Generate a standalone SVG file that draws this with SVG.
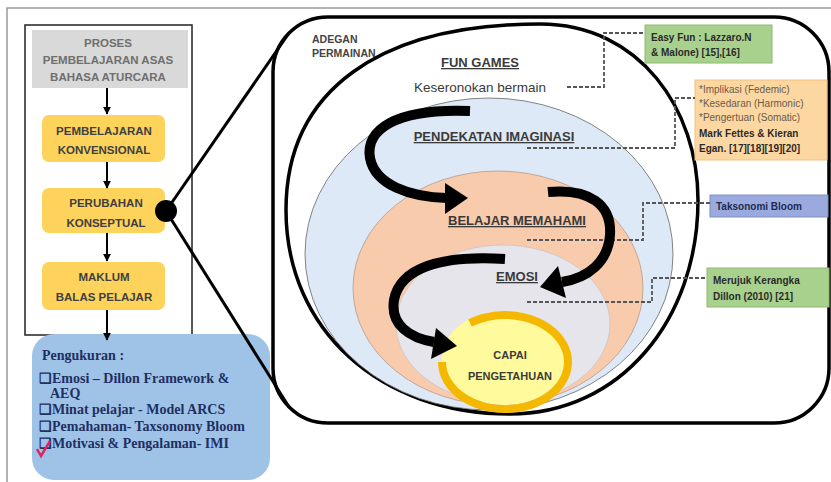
<svg xmlns="http://www.w3.org/2000/svg" width="831" height="482" viewBox="0 0 831 482">
<style>
.s{font-family:"Liberation Sans",Arial,sans-serif}
.b{font-weight:bold}
.lp{font-family:"Liberation Sans",Arial,sans-serif;font-weight:bold;font-size:11.5px;fill:#3f3f3f;text-anchor:middle}
.yb{fill:#fdd35c;stroke:none}
.ms{font-family:"Liberation Serif","Times New Roman",serif;font-weight:bold;font-size:14px;fill:#1f2f5f}
.dash{fill:none;stroke:#555;stroke-width:1.8;stroke-dasharray:4 2}
.thick{fill:none;stroke:#000;stroke-width:10}
.ttl{font-family:"Liberation Sans",Arial,sans-serif;font-weight:bold;font-size:13px;fill:#3a3a3a;text-anchor:middle;text-decoration:underline}
.ref{font-family:"Liberation Sans",Arial,sans-serif;font-size:10px;fill:#2a2a2a}
</style>
<defs>
<marker id="ah" viewBox="0 0 10 10" refX="9" refY="5" markerWidth="4" markerHeight="4" orient="auto">
<path d="M0,0 L10,5 L0,10 z" fill="#000"/>
</marker>
</defs>
<rect width="831" height="482" fill="#fff"/>
<!-- outer frame -->
<path d="M7 482 V8 H831" fill="none" stroke="#9a9a9a" stroke-width="1.5"/>

<!-- left panel -->
<g id="left-panel">
<rect x="25" y="25" width="167" height="310" fill="#fff" stroke="#222" stroke-width="1.5"/>
</g>
<g id="proses">
<rect x="32" y="30" width="156" height="58" fill="#d9d9d9"/>
<text class="lp" style="fill:#6f6f6f" x="108" y="47">PROSES</text>
<text class="lp" style="fill:#6f6f6f" x="108" y="64">PEMBELAJARAN ASAS</text>
<text class="lp" style="fill:#6f6f6f" x="108" y="81">BAHASA ATURCARA</text>
</g>
<g id="konvensional">
<rect class="yb" x="42" y="115" width="123" height="47" rx="7"/>
<text class="lp" x="104" y="135">PEMBELAJARAN</text>
<text class="lp" x="104" y="154">KONVENSIONAL</text>
</g>
<g id="konseptual">
<rect class="yb" x="42" y="188" width="123" height="45" rx="7"/>
<text class="lp" x="106" y="207">PERUBAHAN</text>
<text class="lp" x="106" y="227">KONSEPTUAL</text>
</g>
<g id="maklum">
<rect class="yb" x="42" y="262" width="123" height="48" rx="7"/>
<text class="lp" x="104" y="281">MAKLUM</text>
<text class="lp" x="104" y="301">BALAS PELAJAR</text>
</g>
<g id="pengukuran">
<rect x="32" y="334" width="238" height="146" rx="22" fill="#9fc3e7"/>
<text class="ms" x="42" y="360">Pengukuran :</text>
<text class="ms" x="39" y="383">❑Emosi – Dillon Framework &amp;</text>
<text class="ms" x="50" y="398">AEQ</text>
<text class="ms" x="39" y="414">❑Minat pelajar - Model ARCS</text>
<text class="ms" x="39" y="431">❑Pemahaman- Taxsonomy Bloom</text>
<text class="ms" x="39" y="448">❑Motivasi &amp; Pengalaman- IMI</text>
<path d="M37 449 L41 456 L50 441" fill="none" stroke="#e0245e" stroke-width="2.5"/>
</g>

<!-- big zoom frame -->
<g id="adegan-frame">
<rect x="273" y="17" width="556" height="406" rx="55" fill="#fff" stroke="#000" stroke-width="3.5"/>
<text class="s b" x="312" y="43" font-size="10.5" fill="#444">ADEGAN</text>
<text class="s b" x="312" y="57" font-size="10.5" fill="#444">PERMAINAN</text>
</g>

<g id="fun-games">
<path d="M286 210 C286 90 380 24 540 24 C640 24 698 110 698 200 C698 320 620 414 510 414 C380 414 286 330 286 210 Z" fill="#fff" stroke="#000" stroke-width="3.5"/>
<text class="ttl" x="480" y="67">FUN GAMES</text>
<text class="s" x="480" y="92" font-size="13.5" fill="#3a3a3a" text-anchor="middle">Keseronokan bermain</text>
</g>
<g id="imaginasi">
<ellipse cx="489" cy="254" rx="184" ry="156" fill="#dde9f6" stroke="#666" stroke-width="0.8"/>
<text class="ttl" x="494" y="141">PENDEKATAN IMAGINASI</text>
</g>
<g id="memahami">
<ellipse cx="498" cy="288" rx="145" ry="117" fill="#f8cbad" stroke="#b09080" stroke-width="0.7"/>
<text class="ttl" x="517" y="225">BELAJAR MEMAHAMI</text>
</g>
<g id="emosi">
<ellipse cx="503" cy="324" rx="107" ry="79" fill="#e6e5ec" stroke="#c8c0c0" stroke-width="0.7"/>
<text class="ttl" x="517" y="281">EMOSI</text>
</g>
<g id="capai">
<ellipse cx="505" cy="358" rx="63" ry="47" fill="#fffa9c"/>
<path d="M470 323 A63 47 0 1 1 442 362" fill="none" stroke="#f5b800" stroke-width="8"/>
<text class="s b" x="510" y="359" font-size="11" fill="#3a3a3a" text-anchor="middle">CAPAI</text>
<text class="s b" x="510" y="380" font-size="11" fill="#3a3a3a" text-anchor="middle">PENGETAHUAN</text>
</g>

<!-- reference boxes -->
<g id="easy-fun">
<rect x="645" y="25" width="127" height="38" fill="#a9d18e" stroke="#8fb873" stroke-width="1"/>
<text class="ref b" x="651" y="41">Easy Fun : Lazzaro.N</text>
<text class="ref b" x="651" y="56">&amp; Malone) [15],[16]</text>
</g>
<g id="fettes-egan">
<rect x="695" y="80" width="132" height="80" fill="#fdd7a2" stroke="#f3c27e" stroke-width="1"/>
<text class="ref" x="699" y="93" style="fill:#6a5a48">*Implikasi (Fedemic)</text>
<text class="ref" x="699" y="107" style="fill:#6a5a48">*Kesedaran (Harmonic)</text>
<text class="ref" x="699" y="121" style="fill:#6a5a48">*Pengertuan (Somatic)</text>
<text class="ref b" x="699" y="137">Mark Fettes &amp; Kieran</text>
<text class="ref b" x="699" y="152">Egan. [17][18][19][20]</text>
</g>
<g id="taksonomi">
<rect x="710" y="195" width="118" height="22" fill="#9aaade" stroke="#7f8fc0" stroke-width="1"/>
<text class="ref b" x="716" y="210" style="fill:#1f2a50">Taksonomi Bloom</text>
</g>
<g id="dillon">
<rect x="707" y="268" width="122" height="39" fill="#a9d18e" stroke="#8fb873" stroke-width="1"/>
<text class="ref b" x="713" y="284">Merujuk Kerangka</text>
<text class="ref b" x="713" y="300">Dillon (2010) [21]</text>
</g>

<!-- connectors -->
<g id="connectors">
<line x1="107" y1="88" x2="107" y2="114" stroke="#000" stroke-width="2" marker-end="url(#ah)"/>
<line x1="107" y1="162" x2="107" y2="188" stroke="#000" stroke-width="2" marker-end="url(#ah)"/>
<line x1="107" y1="233" x2="107" y2="261" stroke="#000" stroke-width="2" marker-end="url(#ah)"/>
<line x1="107" y1="310" x2="107" y2="340" stroke="#000" stroke-width="2" marker-end="url(#ah)"/>
<line x1="166" y1="211" x2="289" y2="33" stroke="#000" stroke-width="3"/>
<line x1="166" y1="211" x2="289" y2="407" stroke="#000" stroke-width="3"/>
<circle cx="166" cy="211" r="11" fill="#000"/>
<path class="dash" d="M567 87 H604 V33 H645"/>
<path class="dash" d="M527 148 H675 V98 H695"/>
<path class="dash" d="M527 240 H643 V203 H710"/>
<path class="dash" d="M527 302 H652 V278 H707"/>
<path class="thick" d="M470 111 C395 108 365 130 370 158 C375 185 410 197 447 198"/>
<polygon points="468,198 445,183 445,214" fill="#000"/>
<path class="thick" d="M548 192 C590 188 612 205 610 235 C608 262 588 278 562 282"/>
<polygon points="540,287 558,266 566,298" fill="#000"/>
<path class="thick" d="M505 259 C440 255 400 268 394 300 C390 325 410 338 434 342"/>
<polygon points="457,346 436,328 431,359" fill="#000"/>
</g>
</svg>
